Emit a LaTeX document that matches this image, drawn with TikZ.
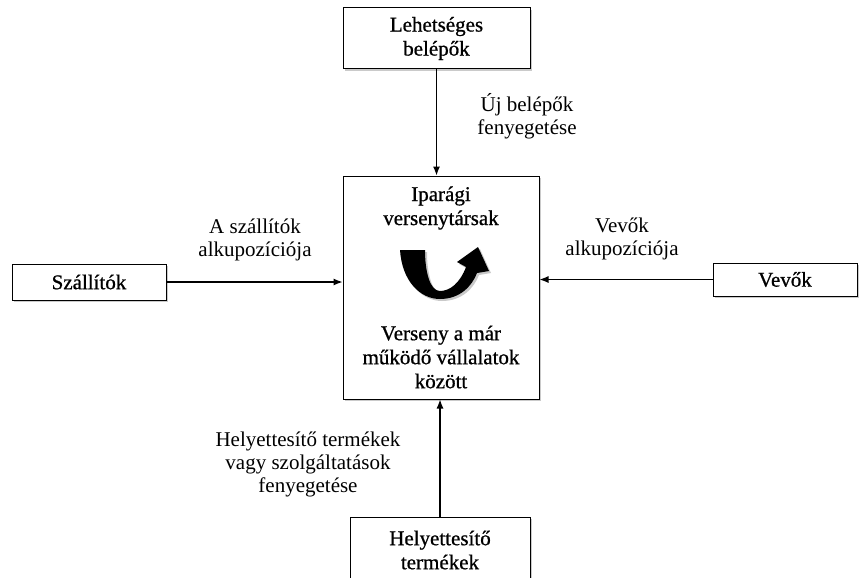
\documentclass[tikz,border=0pt]{standalone}
\usepackage{fontspec}
\setmainfont{Liberation Serif}
\newfontfamily\heavyserif[FakeBold=0.8]{Liberation Serif}
\usetikzlibrary{shadows,arrows.meta}
\begin{document}
\begin{tikzpicture}[x=1pt,y=-1pt,
  box/.style={draw,line width=1pt,fill=white,inner sep=0pt,
    drop shadow={shadow xshift=2pt,shadow yshift=-2pt,opacity=0.35,fill=black!60},
    font=\fontsize{21}{24}\heavyserif,align=center},
  intext/.style={font=\fontsize{21}{24}\heavyserif,align=center,inner sep=0pt},
  lbl/.style={font=\fontsize{21}{23}\selectfont,align=center,inner sep=0pt},
  flow/.style={line width=1.2pt,-{Latex[length=9pt,width=7pt]}}
]
\useasboundingbox (0,0) rectangle (859,578);
\clip (0,0) rectangle (859,578);

% the five forces
\node[box,minimum width=187pt,minimum height=61pt] (entrants) at (436.5,38.5) {Lehetséges\\belépők};
\node[box,minimum width=196pt,minimum height=223pt] (rivals) at (441,287.5) {};
\node[box,minimum width=154pt,minimum height=36pt] (suppliers) at (89,282) {Szállítók};
\node[box,minimum width=144pt,minimum height=33pt] (buyers) at (785,279.5) {Vevők};
\node[box,minimum width=180pt,minimum height=66pt] (substitutes) at (440,550) {Helyettesítő\\termékek};

% text inside the central box
\node[intext] (rivalstitle) at (441,208) {Iparági\\versenytársak};
\node[intext] (rivalsbody) at (441,357) {Verseny a már\\működő vállalatok\\között};

% curved arrow symbol
\fill[black,drop shadow={shadow xshift=2pt,shadow yshift=-2pt,opacity=0.35,fill=black!60}]
  (400,250) .. controls (402,281) and (420,299) .. (440,299)
  .. controls (460,299) and (472,286) .. (477,273)
  -- (489,271) -- (478,247) -- (457,262) -- (466,267)
  .. controls (460,283) and (450,291) .. (440,291)
  .. controls (430,291) and (425,272) .. (425,250) -- cycle;

% connectors
\draw[flow] (entrants.south) -- (entrants.south |- rivals.north);
\draw[flow] (suppliers.east) -- (suppliers.east -| rivals.west);
\draw[flow] (buyers.west) -- (buyers.west -| rivals.east);
\draw[flow] (substitutes.north) -- (substitutes.north |- rivals.south);

% connector labels
\node[lbl] (lblentrants) at (527,116) {Új belépők\\fenyegetése};
\node[lbl] (lblsuppliers) at (255,240) {A szállítók\\alkupozíciója};
\node[lbl] (lblbuyers) at (622,239) {Vevők\\alkupozíciója};
\node[lbl] (lblsubstitutes) at (308,464) {Helyettesítő termékek\\vagy szolgáltatások\\fenyegetése};
\end{tikzpicture}
\end{document}
